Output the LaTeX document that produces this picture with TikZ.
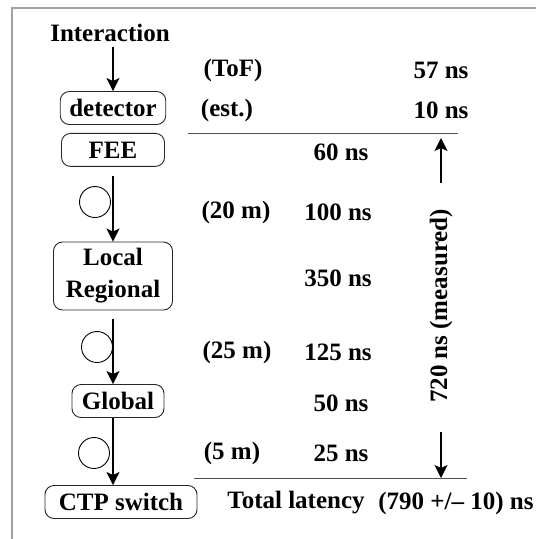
\documentclass[tikz,border=0pt]{standalone}
\usepackage{fontspec}
\setmainfont{Liberation Serif}
\usetikzlibrary{arrows.meta,positioning}
\definecolor{framegray}{HTML}{A0A0A0}
\definecolor{rulegray}{HTML}{505050}

\begin{document}
\begin{tikzpicture}[x=1pt, y=-1pt,
  txt/.style={font=\fontsize{25}{32}\selectfont\bfseries, inner sep=0pt},
  stage/.style={txt, rectangle, rounded corners=9pt, draw=black!85, line width=0.9pt,
                inner xsep=9pt, minimum height=33pt, align=center},
  loopc/.style={circle, draw, line width=0.9pt, minimum size=31pt, inner sep=0pt},
  flow/.style={-{Stealth[length=13pt, width=13pt, inset=3pt]}, line width=1.4pt},
  rule/.style={draw=rulegray, line width=0.8pt},
]
  \useasboundingbox (0,0) rectangle (536,539);
  \draw[framegray, line width=2pt] (12,539) -- (12,8) -- (536,8);

  % chain of stages
  \node[txt] (inter) at (110,33) {Interaction};
  \node[stage, minimum width=103pt] (det) at (113,108) {detector};
  \node[stage, minimum width=103pt, below=8pt of det] (fee) {FEE};
  \node[stage, minimum width=119pt, minimum height=68pt] (loc) at (113,276) {Local\\Regional};
  \node[stage, minimum width=92pt] (glob) at (118,401) {Global};
  \node[stage, minimum width=152pt] (ctp) at (121,502) {CTP switch};

  \node[loopc] (c1) at (95,202) {};
  \node[loopc] (c2) at (97,347) {};
  \node[loopc] (c3) at (94,453) {};

  \draw[flow, shorten <=5pt] (det.north |- inter.south) -- (det.north);
  \draw[flow, shorten <=9pt] (fee.south) -- (loc.north);
  \draw[flow, shorten <=9pt] (loc.south) -- (loc.south |- glob.north);
  \draw[flow] (loc.south |- glob.south) -- (loc.south |- ctp.north);

  % latencies
  \node[txt] (tof) at (233,70) {(ToF)};
  \node[txt] (tofv) at (441,70) {57 ns};
  \node[txt] (est) at (227,110) {(est.)};
  \node[txt] (estv) at (441,110) {10 ns};
  \node[txt] (feev) at (341,152) {60 ns};
  \node[txt] (cab1) at (236,212) {(20 m)};
  \node[txt] (cab1v) at (338,212) {100 ns};
  \node[txt] (locv) at (338,278) {350 ns};
  \node[txt] (cab2) at (237,352) {(25 m)};
  \node[txt] (cab2v) at (338,352) {125 ns};
  \node[txt] (globv) at (341,403) {50 ns};
  \node[txt] (cab3) at (232,453) {(5 m)};
  \node[txt] (cab3v) at (341,453) {25 ns};
  \node[txt] (tot) at (296,503) {Total latency};
  \node[txt] (totv) at (456,503) {(790 +/– 10) ns};

  \coordinate (r1a) at (188,133);
  \coordinate (r1b) at (458,133);
  \coordinate (r2a) at (194,478);
  \coordinate (r2b) at (467,478);
  \draw[rule] (r1a) -- (r1b);
  \draw[rule] (r2a) -- (r2b);

  % measured span
  \node[txt, rotate=90] (meas) at (441,306) {720 ns (measured)};
  \draw[flow, shorten <=26pt, shorten >=5pt] (meas.east) -- (meas.east |- r1b);
  \draw[flow, shorten <=29pt] (meas.west) -- (meas.west |- r2b);
\end{tikzpicture}
\end{document}
